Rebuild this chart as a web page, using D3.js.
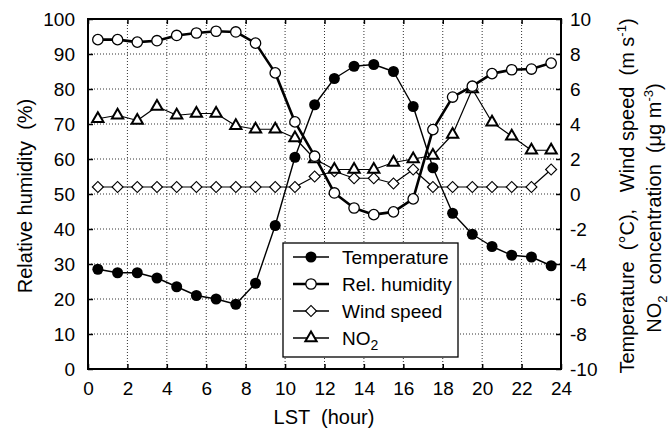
<!DOCTYPE html>
<html>
<head>
<meta charset="utf-8">
<script src="https://cdn.jsdelivr.net/npm/d3@7"></script>
<style>
  body { margin: 0; background: #fff; }
  svg text { font-family: "Liberation Sans", Arial, sans-serif; fill: #000; }
</style>
</head>
<body>
<div id="chart"></div>
<script>
// hourly means, LST
const hours = [0.5, 1.5, 2.5, 3.5, 4.5, 5.5, 6.5, 7.5, 8.5, 9.5, 10.5, 11.5,
  12.5, 13.5, 14.5, 15.5, 16.5, 17.5, 18.5, 19.5, 20.5, 21.5, 22.5, 23.5];

// right axis
const temperature = [-4.3, -4.5, -4.5, -4.8, -5.3, -5.8, -6.0, -6.3, -5.1, -1.8, 2.1, 5.1,
  6.6, 7.3, 7.4, 7.0, 5.0, 1.5, -1.1, -2.3, -3.0, -3.5, -3.6, -4.1];
const windSpeed = [0.4, 0.4, 0.4, 0.4, 0.4, 0.4, 0.4, 0.4, 0.4, 0.4, 0.4, 1.0,
  1.3, 0.9, 0.9, 0.6, 1.4, 0.4, 0.4, 0.4, 0.4, 0.4, 0.4, 1.4];
const no2 = [4.3, 4.5, 4.2, 5.0, 4.5, 4.6, 4.6, 3.9, 3.7, 3.7, 3.2, 2.0,
  1.4, 1.4, 1.4, 1.8, 2.0, 2.2, 3.4, 6.0, 4.1, 3.3, 2.5, 2.5];

// left axis
const relHumidity = [94.1, 94.1, 93.4, 93.8, 95.3, 96.0, 96.5, 96.3, 93.1, 84.6, 70.6, 60.8,
  50.3, 46.0, 44.1, 44.9, 48.6, 68.4, 77.7, 80.8, 84.4, 85.5, 85.7, 87.4];

const xTicks = d3.range(0, 25, 2);
const leftTicks = d3.range(0, 101, 10);
const rightTicks = d3.range(-10, 11, 2);

const width = 671, height = 433;
const margin = { top: 19, right: 110, bottom: 64, left: 88 };
const plotW = width - margin.left - margin.right;
const plotH = height - margin.top - margin.bottom;

const svg = d3.select("#chart").append("svg")
  .attr("width", width)
  .attr("height", height);

const g = svg.append("g")
  .attr("transform", `translate(${margin.left},${margin.top})`);

const x = d3.scaleLinear().domain([0, 24]).range([0, plotW]);
const yL = d3.scaleLinear().domain([0, 100]).range([plotH, 0]);
const yR = d3.scaleLinear().domain([-10, 10]).range([plotH, 0]);

// dotted grid
g.append("g").selectAll("line")
  .data(xTicks.slice(1, -1))
  .join("line")
  .attr("x1", d => x(d)).attr("x2", d => x(d))
  .attr("y1", 0).attr("y2", plotH)
  .attr("stroke", "#333").attr("stroke-width", 1)
  .attr("stroke-dasharray", "1,2");
g.append("g").selectAll("line")
  .data(leftTicks.slice(1, -1))
  .join("line")
  .attr("x1", 0).attr("x2", plotW)
  .attr("y1", d => yL(d)).attr("y2", d => yL(d))
  .attr("stroke", "#333").attr("stroke-width", 1)
  .attr("stroke-dasharray", "1,2");

// axes, ticks pointing inward
const fs = "19px";
const axB = g.append("g").attr("transform", `translate(0,${plotH})`)
  .call(d3.axisBottom(x).tickValues(xTicks).tickSizeInner(-5).tickSizeOuter(0).tickPadding(13));
const axT = g.append("g")
  .call(d3.axisTop(x).tickValues(xTicks).tickSizeInner(-5).tickSizeOuter(0).tickFormat(""));
const axL = g.append("g")
  .call(d3.axisLeft(yL).tickValues(leftTicks).tickSizeInner(-5).tickSizeOuter(0).tickPadding(13));
const axR = g.append("g").attr("transform", `translate(${plotW},0)`)
  .call(d3.axisRight(yR).tickValues(rightTicks).tickSizeInner(-5).tickSizeOuter(0)
    .tickPadding(12).tickFormat(d => String(d)));

[axB, axT, axL, axR].forEach(a => {
  a.select(".domain").remove();
  a.selectAll(".tick line").attr("stroke", "#000").attr("stroke-width", 1.5);
  a.selectAll("text").attr("font-size", fs);
});
axR.selectAll("text").attr("dx", -3);

g.append("rect")
  .attr("width", plotW).attr("height", plotH)
  .attr("fill", "none").attr("stroke", "#000").attr("stroke-width", 2);

// series
function drawSeries(vals, yScale, lw) {
  const line = d3.line().x((d, i) => x(hours[i])).y(d => yScale(d));
  g.append("path").datum(vals)
    .attr("d", line)
    .attr("fill", "none").attr("stroke", "#000").attr("stroke-width", lw)
    .attr("stroke-linejoin", "round");
}
drawSeries(windSpeed, yR, 1.2);
drawSeries(no2, yR, 1.2);
drawSeries(relHumidity, yL, 2.6);
drawSeries(temperature, yR, 1.4);

const diamond = d3.symbol().type(d3.symbolSquare).size(60)();
g.append("g").selectAll("path")
  .data(windSpeed).join("path")
  .attr("d", diamond)
  .attr("transform", (d, i) => `translate(${x(hours[i])},${yR(d)}) rotate(45)`)
  .attr("fill", "#fff").attr("stroke", "#000").attr("stroke-width", 1.2);

const tri = d3.symbol().type(d3.symbolTriangle).size(55)();
g.append("g").selectAll("path")
  .data(no2).join("path")
  .attr("d", tri)
  .attr("transform", (d, i) => `translate(${x(hours[i])},${yR(d)})`)
  .attr("fill", "#fff").attr("stroke", "#000").attr("stroke-width", 2);

g.append("g").selectAll("circle")
  .data(relHumidity).join("circle")
  .attr("cx", (d, i) => x(hours[i])).attr("cy", d => yL(d)).attr("r", 5.2)
  .attr("fill", "#fff").attr("stroke", "#000").attr("stroke-width", 1.3);

g.append("g").selectAll("circle")
  .data(temperature).join("circle")
  .attr("cx", (d, i) => x(hours[i])).attr("cy", d => yR(d)).attr("r", 5.5)
  .attr("fill", "#000");

// axis titles
svg.append("text")
  .attr("x", 324).attr("y", 424)
  .attr("text-anchor", "middle").attr("font-size", "20px")
  .attr("xml:space", "preserve")
  .text("LST  (hour)");

svg.append("text")
  .attr("transform", "translate(32,196) rotate(-90)")
  .attr("text-anchor", "middle").attr("font-size", "20px")
  .attr("xml:space", "preserve")
  .text("Relative humidity  (%)");

const r1 = svg.append("text")
  .attr("transform", "translate(634,196) rotate(-90)")
  .attr("text-anchor", "middle").attr("font-size", "20px")
  .attr("xml:space", "preserve");
r1.append("tspan").text("Temperature  (°C),   Wind speed  (m s");
r1.append("tspan").attr("dy", -8).attr("font-size", "13px").text("-1");
r1.append("tspan").attr("dy", 8).text(")");

const r2 = svg.append("text")
  .attr("transform", "translate(661,208) rotate(-90)")
  .attr("text-anchor", "middle").attr("font-size", "20px")
  .attr("xml:space", "preserve");
r2.append("tspan").text("NO");
r2.append("tspan").attr("dy", 6).attr("font-size", "13px").text("2");
r2.append("tspan").attr("dy", -6).text("  concentration  (μg m");
r2.append("tspan").attr("dy", -8).attr("font-size", "13px").text("-3");
r2.append("tspan").attr("dy", 8).text(")");

// legend
const legendItems = ["Temperature", "Rel. humidity", "Wind speed", "NO2"];
const leg = svg.append("g");
leg.append("rect")
  .attr("x", 283).attr("y", 243).attr("width", 175).attr("height", 114)
  .attr("fill", "#fff").attr("stroke", "#000").attr("stroke-width", 1.3);

legendItems.forEach((name, i) => {
  const cy = 257 + i * 27;
  leg.append("line")
    .attr("x1", 293).attr("x2", 329).attr("y1", cy).attr("y2", cy)
    .attr("stroke", "#000").attr("stroke-width", i === 1 ? 2.6 : 1.3);
  if (i === 0) {
    leg.append("circle").attr("cx", 311).attr("cy", cy).attr("r", 5.5).attr("fill", "#000");
  } else if (i === 1) {
    leg.append("circle").attr("cx", 311).attr("cy", cy).attr("r", 5.2)
      .attr("fill", "#fff").attr("stroke", "#000").attr("stroke-width", 1.3);
  } else if (i === 2) {
    leg.append("path").attr("d", diamond)
      .attr("transform", `translate(311,${cy}) rotate(45)`)
      .attr("fill", "#fff").attr("stroke", "#000").attr("stroke-width", 1.2);
  } else {
    leg.append("path").attr("d", tri)
      .attr("transform", `translate(311,${cy})`)
      .attr("fill", "#fff").attr("stroke", "#000").attr("stroke-width", 2);
  }
  const t = leg.append("text")
    .attr("x", 342).attr("y", cy + 7)
    .attr("font-size", fs);
  if (name === "NO2") {
    t.append("tspan").text("NO");
    t.append("tspan").attr("dy", 5).attr("font-size", "14px").text("2");
  } else {
    t.text(name);
  }
});
</script>
</body>
</html>
